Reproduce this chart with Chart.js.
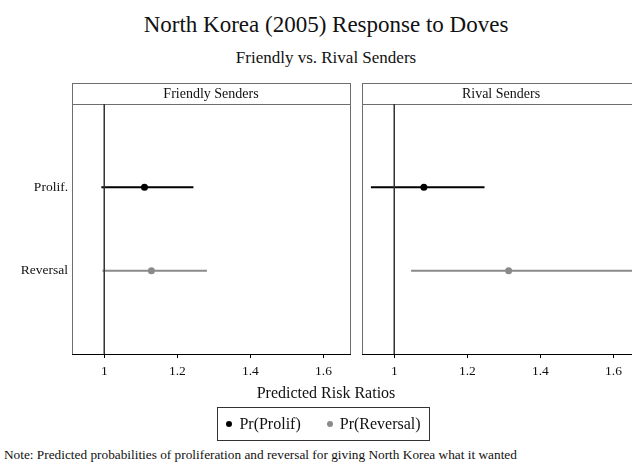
<!DOCTYPE html>
<html>
<head>
<meta charset="utf-8">
<script src="https://cdn.jsdelivr.net/npm/chart.js@4/dist/chart.umd.min.js"></script>
<style>
    body { margin: 0; background: #fff; }
    #wrap { position: relative; width: 632px; height: 462px; overflow: hidden; background: #fff;
        font-family: "Liberation Serif", "DejaVu Serif", serif; color: #111; }
    .txt { position: absolute; white-space: nowrap; transform: translate(-50%, -50%); }
    #title { left: 326px; top: 25px; font-size: 23px; }
    #subtitle { left: 326px; top: 58px; font-size: 17px; }
    #xtitle { left: 326px; top: 393px; font-size: 16px; }
    #legend { position: absolute; left: 217px; top: 407px; width: 213px; height: 34px;
        border: 1px solid #333; display: flex; align-items: center; justify-content: center;
        gap: 26px; font-size: 16px; box-sizing: border-box; }
    .item { display: flex; align-items: center; gap: 7px; }
    .dot { width: 6px; height: 6px; border-radius: 50%; display: inline-block; }
    #note { position: absolute; left: 4px; top: 447px; font-size: 13.3px; white-space: nowrap; }
    canvas { position: absolute; }
</style>
</head>
<body>
<div id="wrap">
    <div id="title" class="txt">North Korea (2005) Response to Doves</div>
    <div id="subtitle" class="txt">Friendly vs. Rival Senders</div>
    <canvas id="friendlyChart" width="360" height="310" style="left:0;top:80px"></canvas>
    <canvas id="rivalChart" width="300" height="310" style="left:350px;top:80px"></canvas>
    <div id="xtitle" class="txt">Predicted Risk Ratios</div>
    <div id="legend"></div>
    <div id="note">Note: Predicted probabilities of proliferation and reversal for giving North Korea what it wanted</div>
</div>
<script>
const panelTitles = ['Friendly Senders', 'Rival Senders'];
const outcomes = ['Prolif.', 'Reversal'];
const seriesNames = ['Pr(Prolif)', 'Pr(Reversal)'];

// point estimates and interval ends
const friendlyEst = [1.110, 1.129];
const friendlyLo = [0.992, 0.995];
const friendlyHi = [1.244, 1.281];
const rivalEst = [1.081, 1.313];
const rivalLo = [0.936, 1.046];
const rivalHi = [1.247, 1.700];

const xTicks = [1, 1.2, 1.4, 1.6];
const xMin = 0.9116;
const xMax = 1.6726;
const refValue = 1;

const seriesColors = ['#000000', '#8a8a8a'];
const serif = '"Liberation Serif", "DejaVu Serif", serif';

const panelFrame = {
    id: 'panelFrame',
    beforeDraw(chart, args, opts) {
        const { ctx, chartArea: a } = chart;
        const l = Math.round(a.left) + 0.5, r = Math.round(a.right) + 0.5;
        const t = Math.round(a.top) + 0.5, b = Math.round(a.bottom) + 0.5;
        ctx.save();
        ctx.strokeStyle = '#6e6e6e';
        ctx.lineWidth = 1;
        ctx.strokeRect(l, t, r - l, b - t);
        ctx.strokeRect(l, t - 21, r - l, 21);
        ctx.fillStyle = '#111';
        ctx.font = '14px ' + serif;
        ctx.textAlign = 'center';
        ctx.textBaseline = 'middle';
        ctx.fillText(opts.text, (a.left + a.right) / 2, t - 10);
        ctx.restore();
    }
};

function buildDatasets(est, lo, hi) {
    const sets = [{
        data: [{ x: refValue, y: 0 }, { x: refValue, y: 3 }],
        showLine: true, borderColor: '#333', borderWidth: 1, pointRadius: 0
    }];
    outcomes.forEach((o, i) => {
        sets.push({
            data: [{ x: lo[i], y: i + 1 }, { x: hi[i], y: i + 1 }],
            showLine: true, borderColor: seriesColors[i], borderWidth: 2, pointRadius: 0
        });
        sets.push({
            label: seriesNames[i],
            data: [{ x: est[i], y: i + 1 }],
            pointRadius: 3.5, pointBackgroundColor: seriesColors[i], pointBorderWidth: 0
        });
    });
    return sets;
}

function makePanel(canvasId, title, est, lo, hi, showLabels, padLeft) {
    new Chart(document.getElementById(canvasId), {
        type: 'scatter',
        data: { datasets: buildDatasets(est, lo, hi) },
        options: {
            responsive: false,
            animation: false,
            layout: { padding: { left: padLeft, right: 10, top: 24, bottom: 0 } },
            plugins: {
                legend: { display: false },
                tooltip: { enabled: false },
                panelFrame: { text: title }
            },
            scales: {
                x: {
                    type: 'linear', min: xMin, max: xMax,
                    afterBuildTicks: s => { s.ticks = xTicks.map(v => ({ value: v })); },
                    afterFit: s => { s.height = 36; },
                    grid: { drawOnChartArea: false, drawTicks: true, tickLength: 4, color: '#000' },
                    border: { color: '#000', width: 1 },
                    ticks: { color: '#111', font: { family: serif, size: 13.5 }, padding: 5, maxRotation: 0,
                        callback: v => String(v) }
                },
                y: {
                    type: 'linear', min: 0, max: 3, reverse: true,
                    afterBuildTicks: s => { s.ticks = outcomes.map((o, i) => ({ value: i + 1 })); },
                    afterFit: s => { s.width = showLabels ? 72 : 0; },
                    grid: { display: false, drawTicks: false },
                    border: { display: false },
                    ticks: { display: showLabels, color: '#111', font: { family: serif, size: 13.5 }, padding: 4,
                        callback: v => outcomes[v - 1] }
                }
            }
        },
        plugins: [panelFrame]
    });
}

makePanel('friendlyChart', panelTitles[0], friendlyEst, friendlyLo, friendlyHi, true, 0);
makePanel('rivalChart', panelTitles[1], rivalEst, rivalLo, rivalHi, false, 12);

document.getElementById('legend').innerHTML = seriesNames.map((n, i) =>
    `<span class="item"><span class="dot" style="background:${seriesColors[i]}"></span>${n}</span>`
).join('');
</script>
</body>
</html>
